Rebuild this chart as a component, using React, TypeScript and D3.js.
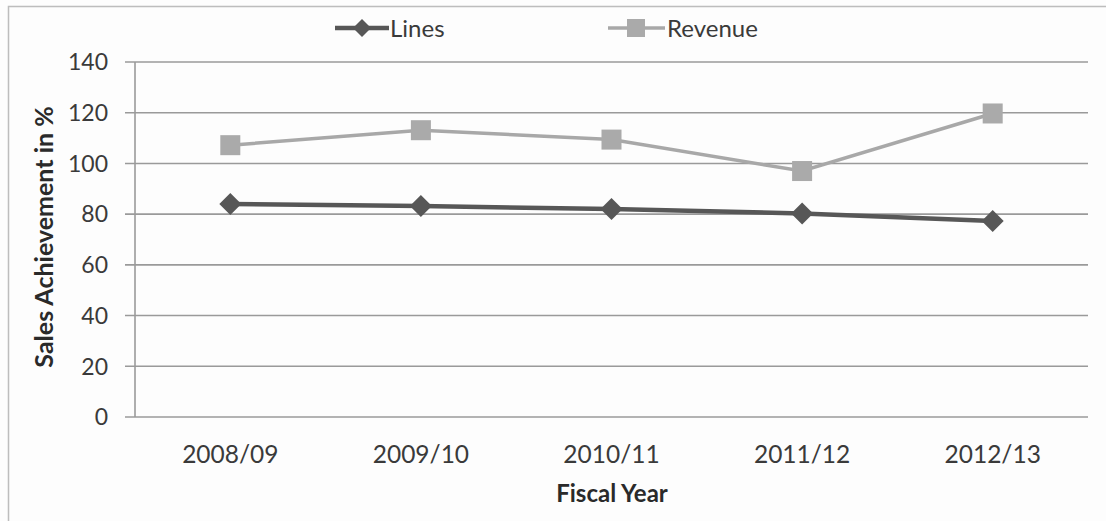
import React from "react";
import * as d3 from "d3";

const categories = ["2008/09", "2009/10", "2010/11", "2011/12", "2012/13"];
const linesValues = [84, 83.2, 82, 80.3, 77.3];
const revenueValues = [107.2, 113.1, 109.4, 97, 119.7];
const yTicks = [0, 20, 40, 60, 80, 100, 120, 140];

const W = 1106;
const H = 521;
const left = 135;
const right = 1088;
const top = 62;
const bottom = 417;
const FONT = "Lato, 'Open Sans', sans-serif";

export default function App() {
  const x = d3.scaleBand<string>().domain(categories).range([left, right]);
  const y = d3.scaleLinear().domain([0, 140]).range([bottom, top]);
  const cx = (c: string) => (x(c) as number) + x.bandwidth() / 2;
  const line = d3
    .line<number>()
    .x((_, i) => cx(categories[i]))
    .y((d) => y(d));
  const diamond = (px: number, py: number, r: number) =>
    `M${px},${py - r}L${px + r},${py}L${px},${py + r}L${px - r},${py}Z`;

  return (
    <svg
      width={W}
      height={H}
      style={{ position: "absolute", left: 0, top: 0, background: "#fdfdfd" }}
    >
      <rect x={0} y={0} width={W} height={H} fill="#fdfdfd" />
      <rect x={8.5} y={6.5} width={W + 20} height={H + 20} fill="none" stroke="#bdbdbd" strokeWidth={1.5} />
      {yTicks.map((t) => (
        <g key={t}>
          <line x1={125} x2={right} y1={y(t)} y2={y(t)} stroke="#9a9a9a" strokeWidth={1.6} />
          <text x={108} y={y(t)} dy="0.36em" textAnchor="end" fontFamily={FONT} fontSize={23} fill="#3a3a3a">
            {t}
          </text>
        </g>
      ))}
      <line x1={left} x2={left} y1={top} y2={bottom} stroke="#9a9a9a" strokeWidth={1.6} />
      {categories.map((c) => (
        <text key={c} x={cx(c)} y={463} textAnchor="middle" fontFamily={FONT} fontSize={24.5} fill="#3a3a3a">
          {c}
        </text>
      ))}
      <text x={612} y={502} textAnchor="middle" fontFamily={FONT} fontSize={24} fontWeight="bold" fill="#2a2a2a">
        Fiscal Year
      </text>
      <text
        transform={`translate(53,237) rotate(-90)`}
        textAnchor="middle"
        fontFamily={FONT}
        fontSize={25}
        fontWeight="bold"
        fill="#2a2a2a"
      >
        Sales Achievement in %
      </text>

      <path d={line(revenueValues) as string} fill="none" stroke="#a8a8a8" strokeWidth={3.5} />
      {revenueValues.map((v, i) => (
        <rect key={i} x={cx(categories[i]) - 10} y={y(v) - 10} width={20} height={20} fill="#aaaaaa" />
      ))}
      <path d={line(linesValues) as string} fill="none" stroke="#575757" strokeWidth={4.5} />
      {linesValues.map((v, i) => (
        <path key={i} d={diamond(cx(categories[i]), y(v), 11)} fill="#575757" />
      ))}

      {/* legend */}
      <line x1={335} x2={389} y1={28} y2={28} stroke="#575757" strokeWidth={4.5} />
      <path d={diamond(362, 28, 9)} fill="#575757" />
      <text x={390} y={28} dy="0.36em" fontFamily={FONT} fontSize={24} fill="#3a3a3a">
        Lines
      </text>
      <line x1={608} x2={665} y1={28} y2={28} stroke="#a8a8a8" strokeWidth={3.5} />
      <rect x={627} y={19} width={18} height={18} fill="#aaaaaa" />
      <text x={667} y={28} dy="0.36em" fontFamily={FONT} fontSize={24} fill="#3a3a3a">
        Revenue
      </text>
    </svg>
  );
}
